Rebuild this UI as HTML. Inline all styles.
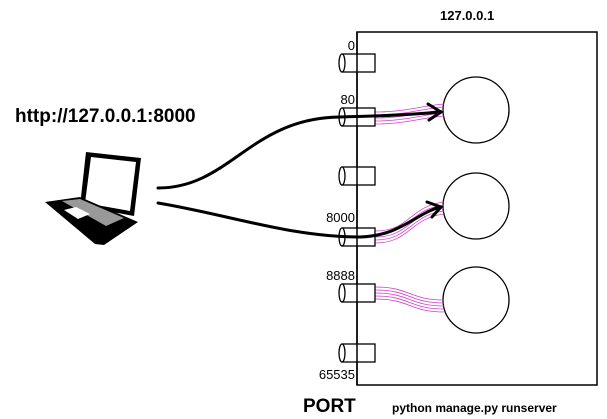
<!DOCTYPE html>
<html><head><style>body{margin:0;background:#fff}</style></head><body>
<svg width="607" height="419" viewBox="0 0 607 419" xmlns="http://www.w3.org/2000/svg" style="display:block;font-family:'Liberation Sans',sans-serif">
<rect x="357" y="32" width="240" height="353" fill="none" stroke="#000" stroke-width="1.5"/>
<text x="440" y="20" font-size="13" font-weight="bold">127.0.0.1</text>
<text x="15" y="122" font-size="19" font-weight="bold">http://127.0.0.1:8000</text>
<text x="303" y="412" font-size="19" font-weight="bold">PORT</text>
<text x="392" y="412" font-size="12" font-weight="bold">python manage.py runserver</text>
<g font-size="13" text-anchor="end">
<text x="355" y="50">0</text><text x="355" y="104">80</text><text x="355" y="222">8000</text><text x="355" y="280">8888</text><text x="355" y="379">65535</text>
</g>
<g fill="none" stroke="#000" stroke-width="1.3">
<circle cx="476" cy="110" r="33"/><circle cx="476" cy="206" r="33"/><circle cx="476" cy="300" r="33"/>
</g>
<g fill="none" stroke="#d040d0" stroke-width="0.8">
<path d="M375 112 C405 112,420 106,444 104"/><path d="M375 115 C405 115,420 109,444 107"/><path d="M375 118 C405 118,420 112,444 110"/><path d="M375 121 C405 121,420 115,444 113"/><path d="M375 124 C405 124,420 118,444 116"/>
<path d="M375 231 C410 231,410 206,444 202"/><path d="M375 234 C410 234,410 209,444 205"/><path d="M375 237 C410 237,410 212,444 208"/><path d="M375 240 C410 240,410 215,444 211"/><path d="M375 243 C410 243,410 218,444 214"/>
<path d="M375 287 C410 287,410 300,444 300"/><path d="M375 290 C410 290,410 303,444 303"/><path d="M375 293 C410 293,410 306,444 306"/><path d="M375 296 C410 296,410 309,444 309"/><path d="M375 299 C410 299,410 312,444 312"/>
</g>
<g stroke="#000" stroke-width="1.3" fill="#fff">
<g transform="translate(0,63)"><rect x="342" y="-9" width="33" height="18"/><ellipse cx="342" cy="0" rx="3" ry="9"/></g>
<g transform="translate(0,117)"><rect x="342" y="-9" width="33" height="18"/><ellipse cx="342" cy="0" rx="3" ry="9"/></g>
<g transform="translate(0,176)"><rect x="342" y="-9" width="33" height="18"/><ellipse cx="342" cy="0" rx="3" ry="9"/></g>
<g transform="translate(0,237)"><rect x="342" y="-9" width="33" height="18"/><ellipse cx="342" cy="0" rx="3" ry="9"/></g>
<g transform="translate(0,293)"><rect x="342" y="-9" width="33" height="18"/><ellipse cx="342" cy="0" rx="3" ry="9"/></g>
<g transform="translate(0,353)"><rect x="342" y="-9" width="33" height="18"/><ellipse cx="342" cy="0" rx="3" ry="9"/></g>
</g>
<line x1="357" y1="32" x2="357" y2="385" stroke="#000" stroke-width="1.5"/>
<g fill="none" stroke="#000" stroke-width="3" stroke-linecap="round">
<path d="M158 188 C230 188,250 118,340 117 C380 116,410 115,440 112"/>
<path d="M428 104 L441 112 L429 120"/>
<path d="M158 203 C230 215,290 237,360 237 C400 236,415 214,440 207"/>
<path d="M427 202 L441 207 L432 217"/>
</g>
<g>
<polygon points="86,152 141,158 134,216 80,206" fill="#000"/>
<polygon points="91,157 136,162 130,211 85,203" fill="#fff"/>
<polygon points="45,202 80,197 138,222 104,245 95,244" fill="#000"/>
<polygon points="62,201 80,199 124,218 106,226" fill="#999"/>
<polygon points="64,210 76,207 90,214 78,219" fill="#fff"/>
</g>
</svg>
</body></html>
